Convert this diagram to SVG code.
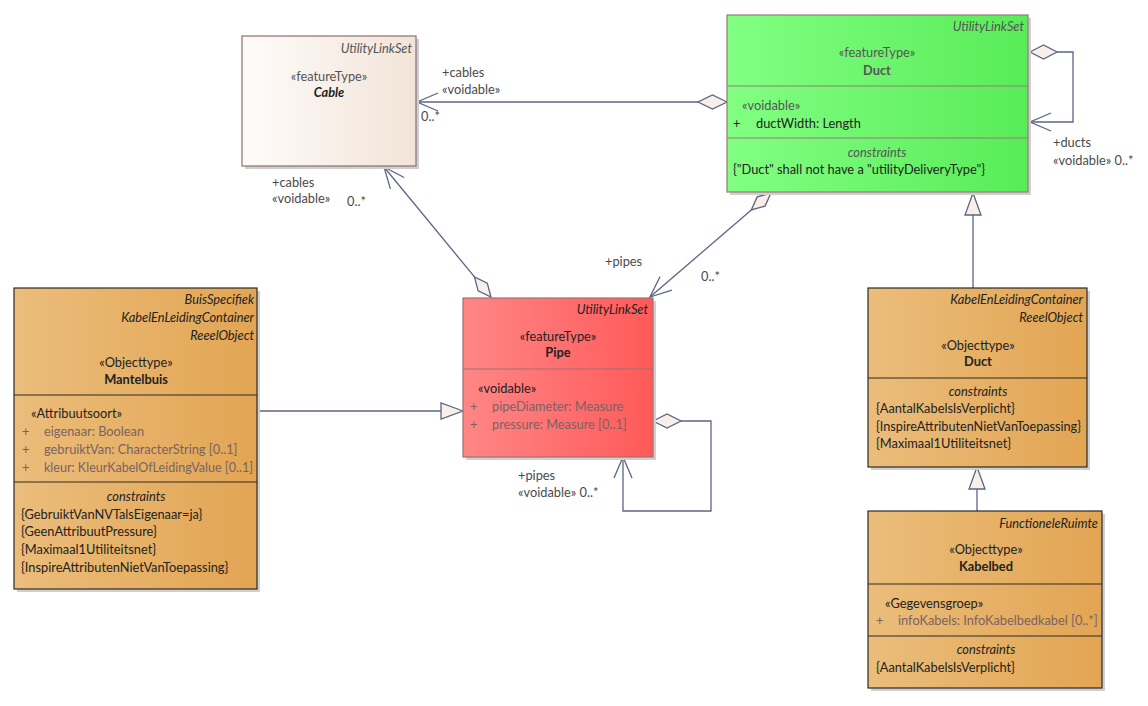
<svg xmlns="http://www.w3.org/2000/svg" width="1148" height="706" viewBox="0 0 1148 706">
<defs>
<linearGradient id="gCable" x1="0" y1="0" x2="1" y2="0"><stop offset="0" stop-color="#fefcfa"/><stop offset="1" stop-color="#f2e4d8"/></linearGradient>
<linearGradient id="gGreen" x1="0" y1="0" x2="1" y2="0"><stop offset="0" stop-color="#82ff82"/><stop offset="1" stop-color="#58ec58"/></linearGradient>
<linearGradient id="gRed" x1="0" y1="0" x2="1" y2="0"><stop offset="0" stop-color="#ff8686"/><stop offset="1" stop-color="#ff5a5a"/></linearGradient>
<linearGradient id="gOrange" x1="0" y1="0" x2="1" y2="0"><stop offset="0" stop-color="#ebbd7b"/><stop offset="1" stop-color="#e2a553"/></linearGradient>
<style>
text{font-family:Lato,"Liberation Sans",sans-serif;font-size:12.8px;fill:#222}
.sh{fill:#cfcfcf}
.it{font-style:italic}
.b{font-weight:bold}
.m{text-anchor:middle}
.e{text-anchor:end}
.g{fill:#555}
.at{fill:#7a6262}
.lb{fill:#4a4a4a}
.con{fill:none;stroke:#5c6482;stroke-width:1.3}
.dia{fill:#f8efea;stroke:#5c6482;stroke-width:1.3}
.bk{stroke:#2a2a2a;stroke-width:1.2}
</style>
</defs>

<g id="connectors">
<!-- Duct -> Cable -->
<line class="con" x1="417" y1="102" x2="698" y2="102"/>
<path class="con" d="M438,93 L417,102 L438,111"/>
<path class="dia" d="M727,102 L712.5,95 L698,102 L712.5,109 Z"/>
<!-- Duct self loop -->
<path class="con" d="M1057,52 H1073 V122 H1030"/>
<path class="con" d="M1051,113 L1030,122 L1051,131"/>
<path class="dia" d="M1030,52 L1043.5,45 L1057,52 L1043.5,59 Z"/>
<!-- Pipe -> Cable -->
<line class="con" x1="474.5" y1="276.9" x2="384" y2="167"/>
<path class="con" d="M404.2,177.5 L384,167 L390.4,188.9"/>
<path class="dia" d="M491,297 L487.3,283.2 L474.5,276.9 L478.1,290.8 Z"/>
<!-- Duct -> Pipe -->
<line class="con" x1="751.3" y1="210" x2="650" y2="297"/>
<path class="con" d="M671.9,290.1 L650,297 L660.1,276.5"/>
<path class="dia" d="M771,193 L765,206.1 L751.3,210 L757.2,196.9 Z"/>
<!-- Pipe self loop -->
<path class="con" d="M681,421 H711 V511 H623 V457"/>
<path class="con" d="M614,478 L623,457 L632,478"/>
<path class="dia" d="M653,421 L667,414 L681,421 L667,428 Z"/>
<!-- Mantelbuis -> Pipe generalization -->
<line class="con" x1="257" y1="411" x2="441" y2="411"/>
<path class="dia" d="M463,411 L441,403 L441,419 Z"/>
<!-- Duct objecttype -> Duct featureType -->
<line class="con" x1="973" y1="215" x2="973" y2="288"/>
<path class="dia" d="M973,193 L965,215 L981,215 Z"/>
<!-- Kabelbed -> Duct objecttype -->
<line class="con" x1="977" y1="489" x2="977" y2="511"/>
<path class="dia" d="M977,467 L969,489 L985,489 Z"/>

<text class="lb" x="442" y="77">+cables</text>
<text class="lb" x="442" y="94">«voidable»</text>
<text class="lb" x="421" y="121">0..*</text>
<text class="lb" x="272" y="187">+cables</text>
<text class="lb" x="272" y="203">«voidable»</text>
<text class="lb" x="347" y="206">0..*</text>
<text class="lb" x="1053" y="147">+ducts</text>
<text class="lb" x="1053" y="165">«voidable» 0..*</text>
<text class="lb" x="605" y="266">+pipes</text>
<text class="lb" x="701" y="281">0..*</text>
<text class="lb" x="518" y="480">+pipes</text>
<text class="lb" x="518" y="497">«voidable» 0..*</text>
</g>

<g id="cable">
<rect class="sh" x="245" y="39" width="174" height="130"/>
<rect x="242" y="36" width="174" height="130" fill="url(#gCable)" stroke="#8c6e6e" stroke-width="1.2"/>
<text class="it e g" x="412" y="53">UtilityLinkSet</text>
<text class="m g" x="329" y="81">«featureType»</text>
<text class="m b it" x="329" y="97" fill="#444">Cable</text>
</g>

<g id="duct-featuretype">
<rect class="sh" x="730" y="18" width="301" height="177"/>
<rect x="727" y="15" width="301" height="177" fill="url(#gGreen)" stroke="#9a7878" stroke-width="1.2"/>
<line x1="727" y1="86" x2="1028" y2="86" stroke="#9a7878" stroke-width="1.2"/>
<line x1="727" y1="138" x2="1028" y2="138" stroke="#9a7878" stroke-width="1.2"/>
<text class="it e g" x="1024" y="31">UtilityLinkSet</text>
<text class="m g" x="877" y="57">«featureType»</text>
<text class="m b g" x="877" y="75">Duct</text>
<text class="g" x="742" y="110">«voidable»</text>
<text x="733" y="128" fill="#444">+</text>
<text x="756" y="128" fill="#444">ductWidth: Length</text>
<text class="m it g" x="877" y="157">constraints</text>
<text x="733" y="174" fill="#444">{"Duct" shall not have a "utilityDeliveryType"}</text>
</g>

<g id="pipe">
<rect class="sh" x="466" y="301" width="190" height="159"/>
<rect x="463" y="298" width="190" height="159" fill="url(#gRed)" stroke="#a07070" stroke-width="1.2"/>
<line x1="463" y1="369" x2="653" y2="369" stroke="#a07070" stroke-width="1.2"/>
<text class="it e" x="648" y="314">UtilityLinkSet</text>
<text class="m" x="558" y="341">«featureType»</text>
<text class="m b" x="558" y="357">Pipe</text>
<text x="478" y="393">«voidable»</text>
<text class="at" x="470" y="411">+</text>
<text class="at" x="492" y="411">pipeDiameter: Measure</text>
<text class="at" x="470" y="429">+</text>
<text class="at" x="492" y="429">pressure: Measure [0..1]</text>
</g>

<g id="mantelbuis">
<rect class="sh" x="17" y="291" width="243" height="301"/>
<rect x="14" y="288" width="243" height="301" fill="url(#gOrange)" class="bk"/>
<line x1="14" y1="395" x2="257" y2="395" class="bk"/>
<line x1="14" y1="482" x2="257" y2="482" class="bk"/>
<text class="it e" x="254" y="304">BuisSpecifiek</text>
<text class="it e" x="254" y="322">KabelEnLeidingContainer</text>
<text class="it e" x="254" y="340">ReeelObject</text>
<text class="m" x="136" y="367">«Objecttype»</text>
<text class="m b" x="136" y="384">Mantelbuis</text>
<text x="31" y="418">«Attribuutsoort»</text>
<text class="at" x="22" y="436">+</text>
<text class="at" x="44" y="436">eigenaar: Boolean</text>
<text class="at" x="22" y="454">+</text>
<text class="at" x="44" y="454">gebruiktVan: CharacterString [0..1]</text>
<text class="at" x="22" y="472">+</text>
<text class="at" x="44" y="472" textLength="209" lengthAdjust="spacingAndGlyphs">kleur: KleurKabelOfLeidingValue [0..1]</text>
<text class="m it" x="136" y="501">constraints</text>
<text x="21" y="519">{GebruiktVanNVTalsEigenaar=ja}</text>
<text x="21" y="536">{GeenAttribuutPressure}</text>
<text x="21" y="554">{Maximaal1Utiliteitsnet}</text>
<text x="21" y="572">{InspireAttributenNietVanToepassing}</text>
</g>

<g id="duct-objecttype">
<rect class="sh" x="871" y="291" width="219" height="179"/>
<rect x="868" y="288" width="219" height="179" fill="url(#gOrange)" class="bk"/>
<line x1="868" y1="378" x2="1087" y2="378" class="bk"/>
<text class="it e" x="1083" y="304">KabelEnLeidingContainer</text>
<text class="it e" x="1083" y="322">ReeelObject</text>
<text class="m" x="978" y="350">«Objecttype»</text>
<text class="m b" x="978" y="366">Duct</text>
<text class="m it" x="978" y="396">constraints</text>
<text x="876" y="413">{AantalKabelsIsVerplicht}</text>
<text x="876" y="431" textLength="205" lengthAdjust="spacingAndGlyphs">{InspireAttributenNietVanToepassing}</text>
<text x="876" y="448">{Maximaal1Utiliteitsnet}</text>
</g>

<g id="kabelbed">
<rect class="sh" x="871" y="514" width="234" height="177"/>
<rect x="868" y="511" width="234" height="177" fill="url(#gOrange)" class="bk"/>
<line x1="868" y1="584" x2="1102" y2="584" class="bk"/>
<line x1="868" y1="636" x2="1102" y2="636" class="bk"/>
<text class="it e" x="1098" y="528">FunctioneleRuimte</text>
<text class="m" x="986" y="554">«Objecttype»</text>
<text class="m b" x="986" y="571">Kabelbed</text>
<text x="885" y="608">«Gegevensgroep»</text>
<text class="at" x="876" y="625">+</text>
<text class="at" x="898" y="625">infoKabels: InfoKabelbedkabel [0..*]</text>
<text class="m it" x="986" y="654">constraints</text>
<text x="876" y="672">{AantalKabelsIsVerplicht}</text>
</g>
</svg>
